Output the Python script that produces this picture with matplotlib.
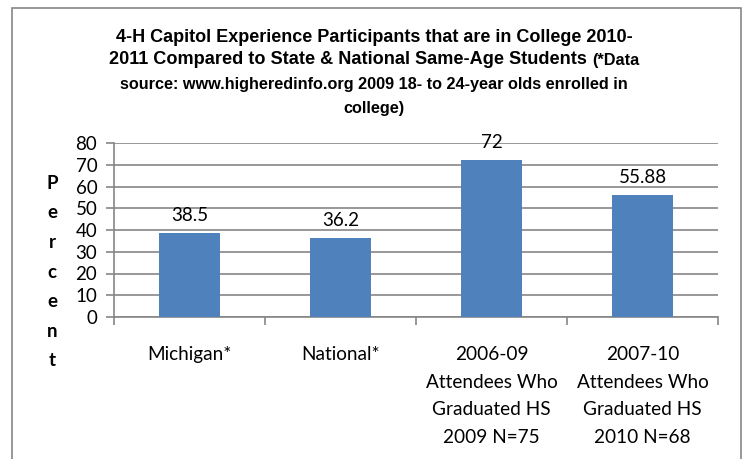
import matplotlib.pyplot as plt
from matplotlib.patches import Rectangle

# chart data
categories = ['Michigan*', 'National*',
              '2006-09\nAttendees Who\nGraduated HS\n2009 N=75',
              '2007-10\nAttendees Who\nGraduated HS\n2010 N=68']
values = [38.5, 36.2, 72, 55.88]
value_labels = ['38.5', '36.2', '72', '55.88']
yticks = [0, 10, 20, 30, 40, 50, 60, 70, 80]

BAR = '#4F81BD'
GRID = '#868686'
BODY = ['Lato', 'DejaVu Sans']
TITLE = ['Liberation Sans', 'DejaVu Sans']

fig = plt.figure(figsize=(7.48, 4.59), dpi=100)
ax = fig.add_axes([114 / 748, 1 - 317 / 459, (718 - 114) / 748, (317 - 143) / 459])

x = list(range(len(categories)))
bars = ax.bar(x, values, width=0.4, color=BAR, zorder=3)
ax.bar_label(bars, labels=value_labels, padding=7, fontsize=13.5, family=BODY)

ax.set_ylim(0, 80)
ax.set_yticks(yticks)
ax.set_xlim(-0.5, len(categories) - 0.5)
ax.set_xticks([i - 0.5 for i in range(len(categories) + 1)])
ax.set_xticklabels([])
ax.set_xticks(x, minor=True)
ax.set_xticklabels(categories, minor=True, fontsize=13.7, family=BODY, linespacing=1.75)
ax.tick_params(axis='x', which='minor', length=0, pad=21)
ax.tick_params(axis='x', which='major', length=6, color=GRID, width=1.2)
ax.tick_params(axis='y', length=6, color=GRID, width=1.2, pad=6, labelsize=13.5)
for lab in ax.get_yticklabels():
    lab.set_family(BODY)

ax.grid(axis='y', color=GRID, lw=1.2, zorder=0)
for s in ['top', 'right']:
    ax.spines[s].set_visible(False)
for s in ['left', 'bottom']:
    ax.spines[s].set_color(GRID)
    ax.spines[s].set_linewidth(1.2)

# stacked y label
fig.text(52 / 748, 1 - 272 / 459, 'P\ne\nr\nc\ne\nn\nt', ha='center', va='center',
         fontsize=13.5, fontweight='bold', family=BODY, linespacing=1.9)

# title, mixed sizes
fig.text(0.5, 1 - 37 / 459, '4-H Capitol Experience Participants that are in College 2010-',
         ha='center', va='center', fontsize=13, fontweight='bold', family=TITLE)
t_a = fig.text(0, 1 - 60 / 459, '2011 Compared to State & National Same-Age Students ',
               ha='left', va='center', fontsize=13.1, fontweight='bold', family=TITLE)
t_b = fig.text(0, 1 - 60 / 459, '(*Data', ha='left', va='center', fontsize=11.7,
               fontweight='bold', family=TITLE)
fig.text(0.5, 1 - 85 / 459, 'source: www.higheredinfo.org 2009 18- to 24-year olds enrolled in',
         ha='center', va='center', fontsize=11.7, fontweight='bold', family=TITLE)
fig.text(0.5, 1 - 108 / 459, 'college)', ha='center', va='center', fontsize=11.7,
         fontweight='bold', family=TITLE)

r = fig.canvas.get_renderer()
wa = t_a.get_window_extent(r).width / fig.bbox.width
wb = t_b.get_window_extent(r).width / fig.bbox.width
x0 = 0.5 - (wa + wb) / 2
t_a.set_x(x0)
t_b.set_x(x0 + wa)

# outer chart frame
fig.patches.append(Rectangle((12 / 748, -0.1), (741 - 12) / 748, 1.1 - 8 / 459,
                             transform=fig.transFigure, fill=False, ec=GRID, lw=1.2))

plt.savefig('out.png', dpi=100)
